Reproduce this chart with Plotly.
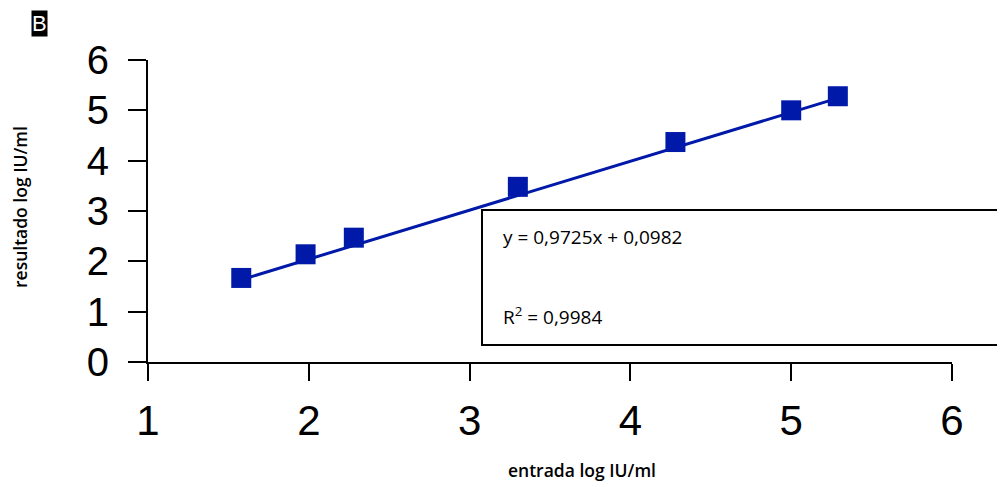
import plotly.graph_objects as go

# data
entrada = [1.58, 1.98, 2.28, 3.30, 4.28, 5.00, 5.29]
resultado = [1.67, 2.14, 2.47, 3.48, 4.37, 5.00, 5.28]
slope = 0.9725
intercept = 0.0982
r2 = 0.9984
x_ticks = [1, 2, 3, 4, 5, 6]
y_ticks = [0, 1, 2, 3, 4, 5, 6]

blue = "#0019A8"
fit_x = [min(entrada), max(entrada)]
fit_y = [slope * v + intercept for v in fit_x]

fig = go.Figure()
fig.add_trace(go.Scatter(x=fit_x, y=fit_y, mode="lines",
                         line=dict(color=blue, width=3), hoverinfo="skip"))
fig.add_trace(go.Scatter(x=entrada, y=resultado, mode="markers",
                         marker=dict(symbol="square", size=20, color=blue,
                                     line=dict(width=0))))

# page has an 8px body offset; plot area spans 148..952 x 60..362 on screen
OFF = 8
L, T = 148, 60
PW, PH = 804, 302

def px(xpix):
    return (xpix - L) / PW

def py(ypix):
    return (T + PH - ypix) / PH

tick_font = dict(family="Liberation Sans, Arial", color="black")
fig.update_layout(
    width=1005 - OFF, height=487 - OFF,
    margin=dict(l=L - OFF, r=1005 - L - PW, t=T - OFF, b=487 - T - PH),
    plot_bgcolor="white", paper_bgcolor="white",
    showlegend=False,
    xaxis=dict(range=[1, 6], tickvals=x_ticks, showgrid=False, zeroline=False,
               showline=True, linecolor="black", linewidth=2,
               ticks="outside", ticklen=17, tickwidth=2, tickcolor="black",
               tickfont=dict(size=42, **tick_font), ticklabelstandoff=4),
    yaxis=dict(range=[0, 6], tickvals=y_ticks, showgrid=False, zeroline=False,
               showline=True, linecolor="black", linewidth=2,
               ticks="outside", ticklen=18, tickwidth=2, tickcolor="black",
               tickfont=dict(size=40, **tick_font), ticklabelstandoff=11),
)

# axis titles
title_font = dict(family="Open Sans", size=17.5, color="black", weight=600)
fig.add_annotation(text="entrada log IU/ml", xref="paper", yref="paper",
                   x=px(582), y=py(470),
                   xanchor="center", yanchor="middle", showarrow=False, font=title_font)
fig.add_annotation(text="resultado log IU/ml", xref="paper", yref="paper",
                   x=px(20), y=py(207), textangle=-90,
                   xanchor="center", yanchor="middle", showarrow=False, font=title_font)

# panel label
fig.add_annotation(text="B", xref="paper", yref="paper",
                   x=px(31), y=py(10),
                   xanchor="left", yanchor="top", showarrow=False,
                   bgcolor="black", borderpad=0,
                   font=dict(family="Liberation Sans, Arial", size=22, color="white"))

# equation box
fig.add_shape(type="rect", xref="paper", yref="paper",
              x0=px(482), x1=1.2, y0=py(345), y1=py(210),
              line=dict(color="black", width=2), fillcolor="white", layer="below")
eq_font = dict(family="Open Sans", size=19, color="black")
fig.add_annotation(text=f"y = {slope:.4f}x + {intercept:.4f}".replace(".", ","),
                   xref="paper", yref="paper", x=px(501), y=py(237),
                   xanchor="left", yanchor="middle", showarrow=False, font=eq_font)
fig.add_annotation(text=f"R<sup>2</sup> = {r2:.4f}".replace(".", ","),
                   xref="paper", yref="paper", x=px(501), y=py(316),
                   xanchor="left", yanchor="middle", showarrow=False, font=eq_font)

fig.write_html("out.html")
